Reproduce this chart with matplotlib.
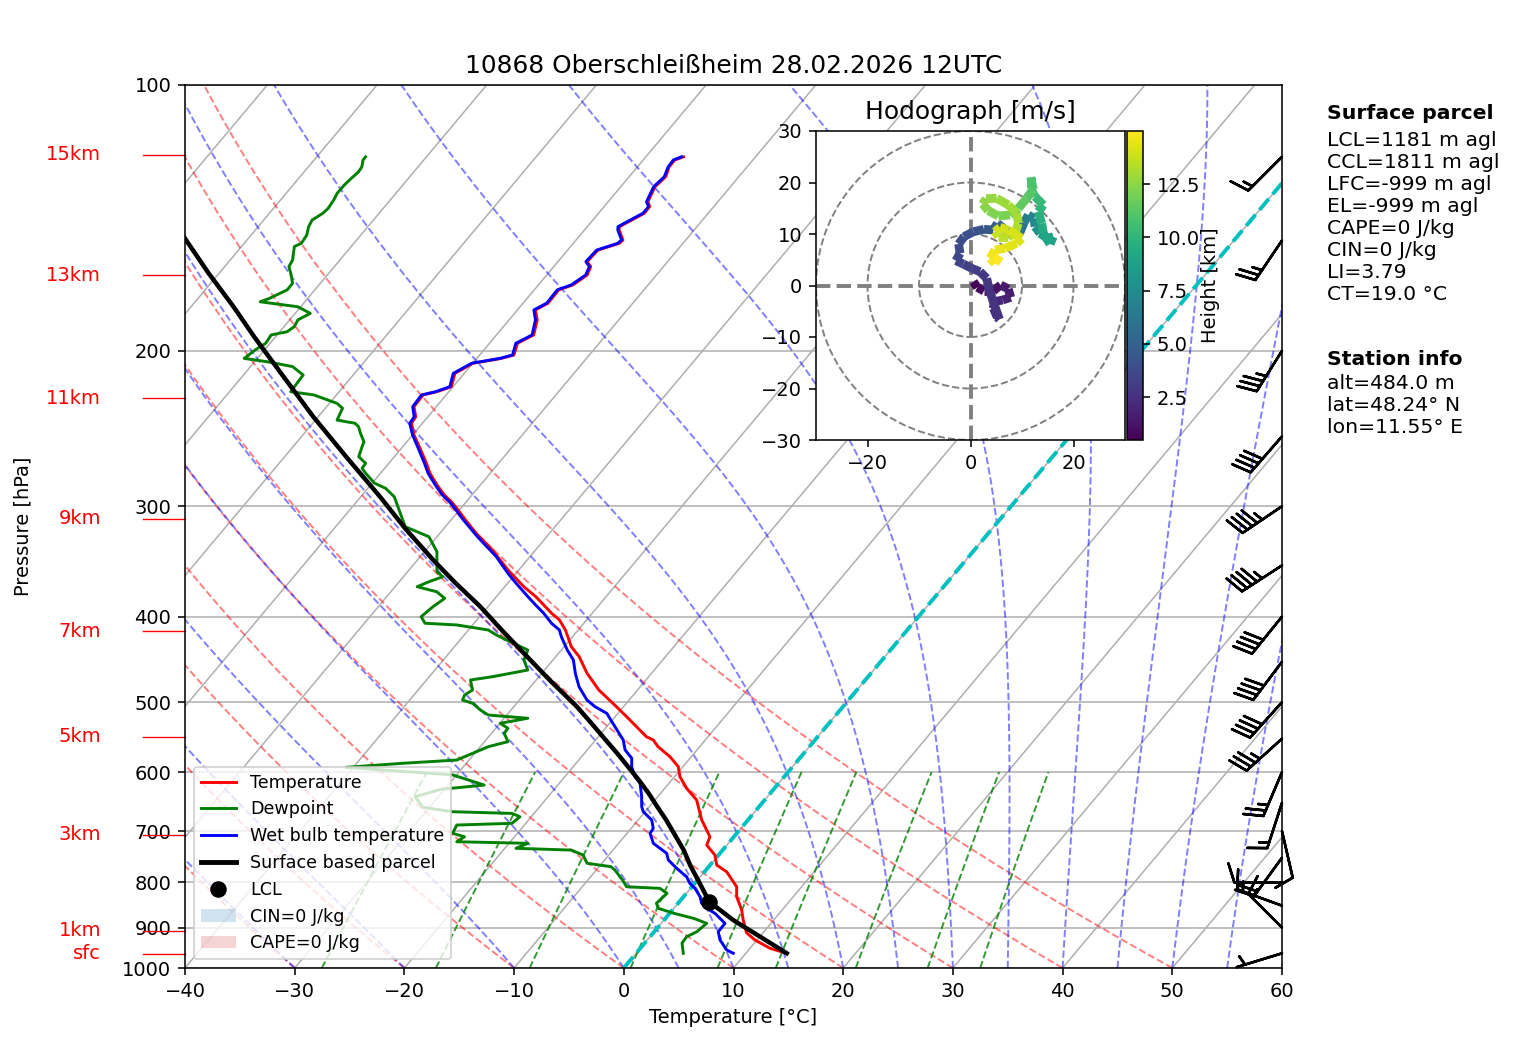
import numpy as np
import matplotlib
matplotlib.use("Agg")
import matplotlib.pyplot as plt
import matplotlib.transforms as mtransforms
from matplotlib.collections import LineCollection
from matplotlib.lines import Line2D
from matplotlib.patches import Circle, Patch
from matplotlib.ticker import NullLocator, ScalarFormatter

title = "10868 Oberschleißheim 28.02.2026 12UTC"

# ---- sounding (hPa / degC)
temp_p = [962.4, 949.9, 929.6, 912.3, 882.5, 859.8, 830.3, 809.1, 778.1, 764.6,
          744.9, 725.7, 710.2, 679.8, 656.6, 645.3, 625.9, 607.3, 591.6, 576.4,
          561.5, 551.8, 547.1, 519.3, 503.8, 484.5, 463.8, 444.1, 432.6, 414.2,
          403.5, 396.5, 379.7, 370.0, 354.2, 336.2, 322.0, 311.0, 301.6, 296.4,
          291.3, 283.8, 275.3, 268.2, 256.8, 249.1, 241.6, 237.5, 231.4, 224.4,
          222.5, 219.6, 212.1, 206.6, 204.0, 202.2, 196.1, 191.9, 184.5, 179.8,
          176.6, 170.6, 168.4, 164.1, 160.6, 158.5, 153.8, 151.1, 149.8, 146.0,
          144.7, 139.7, 137.3, 135.6, 130.4, 127.0, 123.8, 121.6, 120.6]
temp_t = [13.73, 11.82, 9.82, 8.50, 7.22, 6.32, 4.84, 4.08, 2.02, 0.60,
          -0.33, -1.84, -2.18, -4.21, -5.54, -6.20, -8.01, -9.50, -10.42, -11.94,
          -13.80, -14.74, -15.62, -18.95, -20.92, -23.51, -25.87, -27.86, -29.35, -31.16,
          -32.47, -33.70, -36.41, -38.26, -40.98, -43.94, -46.67, -48.66, -50.36, -51.37,
          -52.52, -53.94, -55.48, -56.57, -58.49, -59.87, -61.00, -61.11, -62.04, -62.11,
          -61.08, -60.16, -60.85, -59.98, -57.77, -56.88, -57.45, -56.61, -57.44, -58.36,
          -57.73, -57.77, -56.85, -56.32, -56.63, -57.34, -57.24, -55.81, -55.73, -56.83,
          -57.08, -55.82, -55.85, -56.38, -56.88, -56.67, -57.11, -57.13, -56.57]

wet_p = [962.4, 954.1, 929.6, 909.8, 890.1, 867.2, 855.9, 844.7, 830.3, 812.5,
         802.0, 788.3, 771.1, 754.5, 741.5, 731.9, 722.4, 703.9, 694.8, 679.8,
         665.3, 656.6, 639.7, 617.7, 607.3, 591.6, 578.7, 566.2, 551.8, 523.8,
         514.8, 505.9, 497.2, 480.3, 463.8, 447.9, 436.4, 421.5, 414.2, 407.0,
         396.5, 388.1, 379.7, 366.6, 357.3, 342.1, 324.8, 311.0, 301.6, 296.4,
         291.3, 283.8, 275.3, 268.2, 256.8, 249.1, 241.6, 237.5, 231.4, 224.4,
         222.5, 219.6, 212.1, 206.6, 204.0, 202.2, 196.1, 191.9, 184.5, 179.8,
         176.6, 170.6, 168.4, 164.1, 160.6, 158.5, 153.8, 151.1, 149.8, 146.0,
         144.7, 139.7, 137.3, 135.6, 130.4, 127.0, 123.8, 121.6, 120.6]
wet_t = [8.86, 8.00, 6.63, 5.84, 5.81, 4.13, 3.00, 2.15, 1.50, 0.40,
         -0.44, -1.25, -2.80, -4.20, -4.86, -5.85, -6.84, -7.90, -7.99, -8.77,
         -10.17, -10.70, -11.47, -12.64, -13.60, -14.67, -15.31, -16.56, -17.48, -20.14,
         -21.01, -22.60, -23.84, -25.58, -26.94, -28.14, -29.46, -31.02, -31.71, -32.94,
         -34.42, -35.78, -37.13, -39.24, -40.73, -43.07, -46.30, -48.85, -50.55, -51.55,
         -52.70, -54.10, -55.65, -56.75, -58.65, -60.00, -61.15, -61.25, -62.15, -62.25,
         -61.20, -60.30, -61.00, -60.10, -57.90, -57.00, -57.60, -56.75, -57.60, -58.50,
         -57.85, -57.90, -57.00, -56.45, -56.75, -57.45, -57.35, -55.95, -55.85, -56.95,
         -57.20, -55.95, -55.95, -56.50, -57.00, -56.80, -57.20, -57.25, -56.75]

dew_p = [962.4, 937.0, 921.6, 909.8, 890.1, 878.6, 867.2, 855.9, 844.7, 823.0,
         812.5, 809.1, 795.2, 774.4, 767.8, 761.0, 744.9, 735.3, 731.9, 722.4,
         719.5, 710.2, 703.9, 688.8, 685.7, 674.1, 668.2, 665.3, 657.7, 639.7,
         627.5, 620.6, 604.4, 592.6, 586.5, 581.4, 571.4, 561.5, 554.2, 542.2,
         535.2, 528.3, 521.4, 517.0, 510.3, 501.4, 497.2, 490.7, 484.5, 471.9,
         467.9, 459.8, 447.9, 436.4, 427.0, 419.6, 414.2, 408.8, 407.0, 400.1,
         389.8, 381.4, 374.9, 370.0, 365.2, 360.5, 355.8, 337.7, 324.8, 316.4,
         292.6, 286.2, 282.5, 275.3, 271.7, 268.2, 263.6, 256.8, 253.5, 248.0,
         243.8, 241.6, 239.6, 232.3, 229.4, 224.4, 222.5, 213.0, 208.4, 205.8,
         204.0, 199.6, 196.1, 191.9, 190.3, 187.8, 184.5, 181.4, 178.3, 176.0,
         174.5, 170.6, 167.7, 163.4, 160.6, 157.8, 152.4, 151.1, 147.9, 144.7,
         142.2, 139.7, 137.9, 135.0, 132.6, 129.8, 127.5, 125.4, 123.8, 121.6, 120.6]
dew_t = [4.30, 3.40, 3.34, 3.88, 4.14, 2.58, 0.40, -1.41, -1.97, -1.77,
         -2.79, -5.95, -6.83, -8.31, -8.92, -11.36, -12.34, -13.81, -18.98, -18.28,
         -24.88, -24.55, -25.89, -26.16, -21.25, -21.03, -22.02, -27.55, -30.59, -32.12,
         -30.33, -26.71, -30.36, -40.66, -35.93, -31.13, -30.20, -29.27, -27.86, -28.85,
         -28.89, -29.97, -27.84, -31.69, -32.79, -34.03, -35.18, -35.38, -35.04, -35.99,
         -34.26, -31.53, -32.65, -33.06, -35.31, -37.08, -38.19, -41.45, -44.47, -45.33,
         -45.01, -44.58, -45.81, -47.98, -47.29, -46.41, -47.33, -48.86, -50.73, -53.66,
         -56.95, -58.40, -59.77, -61.34, -62.06, -62.11, -63.25, -63.71, -63.92, -64.88,
         -65.55, -66.14, -68.02, -68.43, -69.30, -72.05, -74.42, -74.56, -76.17, -78.83,
         -81.20, -80.86, -80.40, -80.54, -79.33, -79.07, -79.25, -78.62, -80.26, -84.07,
         -83.51, -82.52, -82.54, -83.46, -84.14, -84.32, -85.18, -84.79, -84.93, -85.40,
         -85.59, -85.12, -85.02, -85.15, -85.35, -85.33, -85.20, -85.04, -85.12, -85.54, -85.55]

parcel_p = [962.4, 921.6, 882.5, 841.2, 795.2, 765.0, 735.3, 707.0, 679.8, 657.0,
            634.0, 612.0, 591.6, 570.0, 549.3, 527.0, 505.9, 471.9, 440.1, 414.0,
            389.8, 366.0, 345.0, 318.0, 292.6, 263.6, 237.5, 212.1, 192.8, 178.3,
            163.4, 149.5, 140.0]
parcel_t = [13.73, 10.03, 6.31, 2.72, 0.05, -1.80, -3.55, -5.50, -7.45, -9.25,
            -11.10, -13.05, -15.00, -17.15, -19.35, -21.80, -24.25, -28.78, -33.17, -37.00,
            -40.69, -44.85, -48.58, -53.50, -58.25, -64.40, -70.45, -76.70, -81.95, -86.12,
            -90.95, -95.67, -99.00]
lcl_p, lcl_t = 841.2, 2.72

# wind barbs (direction deg, speed kt)
barb_p = [962.4, 900, 850, 800, 750, 700, 650, 600, 550, 500, 450, 400, 350, 300,
          250, 200, 150, 120.6]
barb_dir = [253, 315, 290, 270, 216, 167, 198, 203, 228, 222, 217, 219, 237, 236,
            221, 212, 214, 225]
barb_kt = [5, 15, 15, 10, 20, 10, 15, 25, 35, 40, 40, 40, 45, 45, 40, 35, 25, 15]

height_labels = ["sfc", "1km", "3km", "5km", "7km", "9km", "11km", "13km", "15km"]
height_p = [963.6, 908.0, 706.2, 547.5, 415.6, 309.7, 226.4, 164.2, 120.0]

# hodograph (m/s, km)
hodo_u = [0.55, 1.33, 2.62, 4.43, 5.86, 7.35, 7.80, 6.25, 4.63, 4.43, 5.21, 5.60, 4.76, 3.66,
          3.14, 1.84, 0.23, -1.39, -2.82, -2.04, -2.30, -1.26, 0.55, 2.62, 4.43, 5.21, 6.70,
          8.45, 9.48, 10.39, 11.23, 12.33, 12.52, 13.50, 14.92, 16.08, 15.44, 14.14, 13.82,
          13.17, 14.14, 12.52, 11.68, 11.68, 12.2, 10.91, 9.29, 7.67, 5.40, 3.46, 2.36, 3.01,
          5.08, 7.35, 8.96, 9.29, 8.64, 7.35, 5.40, 4.76, 5.73, 7.35, 9.94, 8.96, 6.70, 4.76,
          3.79, 4.76, 5.73]
hodo_v = [0.74, -0.36, -1.07, -1.07, 0.10, -0.68, -2.30, -2.82, -3.14, -4.43, -6.18, -6.57,
          -4.11, -0.87, 1.39, 2.69, 3.33, 4.17, 4.82, 6.25, 8.06, 9.48, 10.45, 10.91, 10.78,
          12.07, 10.91, 9.48, 10.0, 12.2, 13.69, 13.04, 11.42, 10.13, 9.16, 9.48, 8.06, 10.13,
          12.07, 14.34, 15.63, 17.25, 18.87, 21.0, 18.67, 16.93, 14.98, 13.69, 13.50, 14.53,
          15.83, 16.86, 16.93, 15.63, 14.01, 12.07, 10.13, 9.48, 9.48, 10.45, 11.29, 10.78,
          9.16, 8.19, 7.22, 6.89, 5.28, 4.30, 5.73]
hodo_h = [0.48, 0.7, 0.9, 1.1, 1.3, 1.5, 1.7, 1.9, 2.05, 2.2, 2.35, 2.45, 2.6, 2.75, 2.9,
          3.05, 3.2, 3.35, 3.5, 3.65, 3.8, 3.95, 4.1, 4.3, 4.5, 4.8, 5.1, 5.5, 5.8, 6.3, 6.8,
          7.2, 7.5, 8.0, 8.4, 8.7, 8.9, 9.2, 9.5, 9.8, 10.1, 10.4, 10.6, 10.8, 11.0, 11.3,
          11.6, 11.9, 12.1, 12.3, 12.45, 12.6, 12.75, 12.9, 13.05, 13.2, 13.35, 13.5, 13.65,
          13.8, 13.95, 14.05, 14.15, 14.3, 14.45, 14.6, 14.75, 14.85, 15.0]

parcel_info = ["LCL=1181 m agl", "CCL=1811 m agl", "LFC=-999 m agl", "EL=-999 m agl",
               "CAPE=0 J/kg", "CIN=0 J/kg", "LI=3.79", "CT=19.0 °C"]
station_info = ["alt=484.0 m", "lat=48.24° N", "lon=11.55° E"]

SKEW = 0.675   # shift of isotherms in axes widths per axes height


def moist_adiabat(t0, pres):
    # integrate the saturated lapse rate from the first pressure level
    Rd, Lv, Cp, eps = 287.04749, 2.50084e6, 1004.6662, 0.6219569

    def dtdp(t, p):
        es = 6.112 * np.exp(17.67 * (t - 273.15) / (t - 29.65))
        rs = eps * es / (p - es)
        return (Rd * t + Lv * rs) / (Cp + Lv * Lv * rs * eps / (Rd * t * t)) / p

    out = [t0 + 273.15]
    for p1, p2 in zip(pres[:-1], pres[1:]):
        t = out[-1]
        h = p2 - p1
        k1 = dtdp(t, p1)
        k2 = dtdp(t + h / 2 * k1, p1 + h / 2)
        k3 = dtdp(t + h / 2 * k2, p1 + h / 2)
        k4 = dtdp(t + h * k3, p2)
        out.append(t + h / 6 * (k1 + 2 * k2 + 2 * k3 + k4))
    return np.array(out) - 273.15


W, H = 1517, 1054
fig = plt.figure(figsize=(W / 140, H / 140), dpi=140)


def box(l, t, r, b):
    return [l / W, 1 - b / H, (r - l) / W, (b - t) / H]


ax = fig.add_axes(box(185, 85, 1282, 968))
ax.set_yscale("log")
ax.set_xlim(-40, 60)
ax.set_ylim(1000, 100)
ax.set_autoscale_on(False)
skew = (ax.transScale + ax.transLimits
        + mtransforms.Affine2D().skew(np.arctan(SKEW), 0) + ax.transAxes)

# background
for t in range(-150, 61, 10):
    ax.plot([t, t], [1000, 100], transform=skew, color="#b0b0b0", lw=0.8, zorder=1)
ax.yaxis.grid(True, color="#b0b0b0", lw=0.8)
ax.set_axisbelow(True)

p_bg = np.linspace(1000, 100, 181)
for th in range(-40, 51, 10):
    tt = (th + 273.15) * (p_bg / 1000.0) ** 0.2857 - 273.15
    ax.plot(tt, p_bg, transform=skew, color="r", ls="--", lw=1, alpha=0.5, zorder=1.2)

for t0 in list(range(-40, 0, 10)) + list(range(0, 61, 5)):
    ax.plot(moist_adiabat(t0, p_bg), p_bg, transform=skew, color="b", ls="--", lw=1,
            alpha=0.5, zorder=1.2)

p_mr = np.linspace(1000, 600, 41)
for w in [0.0004, 0.001, 0.002, 0.004, 0.007, 0.01, 0.016, 0.024, 0.032]:
    e = p_mr * w / (0.622 + w)
    le = np.log(e / 6.112)
    ax.plot(243.5 * le / (17.67 - le), p_mr, transform=skew, color="g", ls="--", lw=1,
            alpha=0.8, zorder=1.2)

ax.plot([0, 0], [1000, 100], transform=skew, color="c", ls="--", lw=2, zorder=1.5)

# profiles
ax.plot(temp_t, temp_p, transform=skew, color="r", lw=1.5, zorder=3)
ax.plot(dew_t, dew_p, transform=skew, color="g", lw=1.5, zorder=3)
ax.plot(wet_t, wet_p, transform=skew, color="b", lw=1.5, zorder=3)
ax.plot(parcel_t, parcel_p, transform=skew, color="k", lw=2.3, zorder=3.2)
ax.plot([lcl_t], [lcl_p], transform=skew, marker="o", color="k", ms=7.5, ls="none", zorder=3.5)

# barbs along the right edge
d = np.deg2rad(barb_dir)
spd = np.array(barb_kt, dtype=float)
ax.barbs(np.ones(len(barb_p)), barb_p, -spd * np.sin(d), -spd * np.cos(d),
         transform=ax.get_yaxis_transform(), clip_on=False, length=7, lw=1.3, zorder=4)

# axes cosmetics
ax.set_yticks(range(100, 1001, 100))
ax.yaxis.set_major_formatter(ScalarFormatter())
ax.yaxis.set_minor_locator(NullLocator())
ax.set_xticks(range(-40, 61, 10))
ax.set_xlabel("Temperature [°C]", fontsize=10)
ax.set_ylabel("Pressure [hPa]", fontsize=10)
ax.yaxis.set_label_coords(-0.139, 0.5)
ax.set_title(title, fontsize=12.8)

yt = ax.get_yaxis_transform()
for lab, p in zip(height_labels, height_p):
    ax.plot([-0.0383, 0], [p, p], transform=yt, color="r", lw=0.7, clip_on=False)
    ax.text(-0.0766, p, lab, transform=yt, ha="right", va="center", color="r", fontsize=10)

handles = [
    Line2D([], [], color="r", lw=1.5),
    Line2D([], [], color="g", lw=1.5),
    Line2D([], [], color="b", lw=1.5),
    Line2D([], [], color="k", lw=2.5),
    Line2D([], [], color="k", marker="o", ms=7.5, ls="none"),
    Patch(facecolor="tab:blue", alpha=0.2),
    Patch(facecolor="tab:red", alpha=0.2),
]
labels = ["Temperature", "Dewpoint", "Wet bulb temperature", "Surface based parcel",
          "LCL", "CIN=0 J/kg", "CAPE=0 J/kg"]
ax.legend(handles, labels, loc="lower left", fontsize=9)

# hodograph inset
hx = fig.add_axes(box(816, 131, 1125, 440))
hx.set_xlim(-30, 30)
hx.set_ylim(-30, 30)
for r in (10, 20, 30):
    hx.add_patch(Circle((0, 0), r, fill=False, ls="--", color="grey", lw=1))
hx.axhline(0, color="grey", ls="--", lw=2)
hx.axvline(0, color="grey", ls="--", lw=2)
pts = np.column_stack([hodo_u, hodo_v])
segs = np.stack([pts[:-1], pts[1:]], axis=1)
hh = np.array(hodo_h)
lc = LineCollection(segs, cmap="viridis", norm=plt.Normalize(hh.min(), hh.max()), lw=4.5)
lc.set_array((hh[:-1] + hh[1:]) / 2)
hx.add_collection(lc)
hx.set_xticks([-20, 0, 20])
hx.set_yticks(range(-30, 31, 10))
hx.set_title("Hodograph [m/s]", fontsize=12.8)

cax = fig.add_axes(box(1127, 131, 1143, 440))
cb = fig.colorbar(lc, cax=cax)
cb.set_ticks([2.5, 5.0, 7.5, 10.0, 12.5])
cb.set_ticklabels(["2.5", "5.0", "7.5", "10.0", "12.5"])
cax.text(5.2, 0.5, "Height [km]", rotation=90, ha="center", va="center",
         transform=cax.transAxes, fontsize=10)

# text panel on the right
tx = 1327 / W
fig.text(tx, 1 - 104 / H, "Surface parcel", weight="bold", va="top", fontsize=10.5)
fig.text(tx, 1 - 131 / H, "\n".join(parcel_info), va="top", fontsize=10.5)
fig.text(tx, 1 - 350 / H, "Station info", weight="bold", va="top", fontsize=10.5)
fig.text(tx, 1 - 374 / H, "\n".join(station_info), va="top", fontsize=10.5)

fig.savefig("out.png", dpi=140)
